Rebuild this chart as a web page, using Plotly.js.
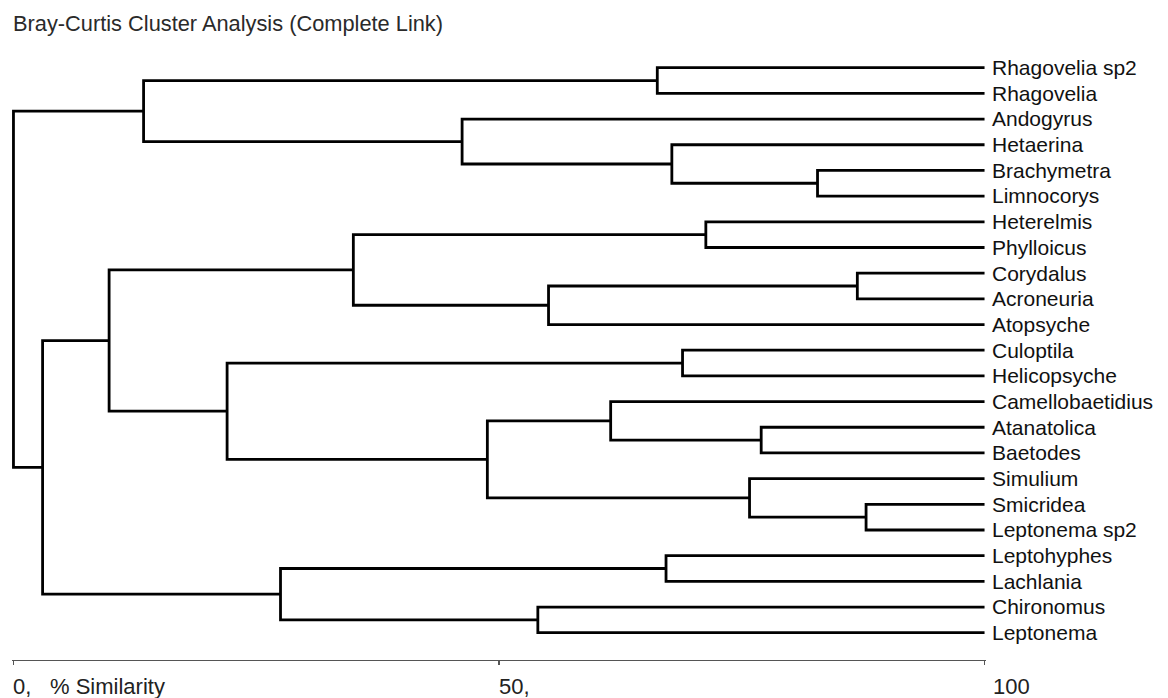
<!DOCTYPE html>
<html><head><meta charset="utf-8">
<script src="https://cdn.plot.ly/plotly-3.0.1.min.js"></script>
<style>html,body{margin:0;padding:0;background:#fff}#chart{width:1168px;height:698px}</style>
</head><body><div id="chart"></div>
<script>
// Leaves, top to bottom
const leaves = ['Rhagovelia sp2','Rhagovelia','Andogyrus','Hetaerina','Brachymetra','Limnocorys',
  'Heterelmis','Phylloicus','Corydalus','Acroneuria','Atopsyche','Culoptila','Helicopsyche',
  'Camellobaetidius','Atanatolica','Baetodes','Simulium','Smicridea','Leptonema sp2',
  'Leptohyphes','Lachlania','Chironomus','Leptonema'];
// Merge steps: ids 0..22 are leaves, merge k creates cluster id 23+k
const mergeA = [0,4,3,2,23,6,8,29,28,11,14,13,17,16,34,32,31,19,21,40,39,27];
const mergeB = [1,5,24,25,26,7,9,10,30,12,15,33,18,35,36,37,38,20,22,41,42,43];
const mergeSimilarity = [66.3,82.8,67.8,46.2,13.4,71.3,86.9,55.1,35.0,68.9,77.0,61.5,87.8,75.8,48.8,22.0,9.85,67.2,54.0,27.5,3.0,0.0];
const leafSimilarity = 100;
const xTickVals = [0,50,100];
const xTickLabels = ['0,','50,','100'];
const axisTitle = '% Similarity';
const chartTitle = 'Bray-Curtis Cluster Analysis (Complete Link)';

const pos = leaves.map((_, i) => i);
const hgt = leaves.map(() => leafSimilarity);
const xs = [], ys = [];
for (let k = 0; k < mergeA.length; k++) {
  const a = mergeA[k], b = mergeB[k], h = mergeSimilarity[k];
  xs.push(hgt[a], h, h, hgt[b], null);
  ys.push(pos[a], pos[a], pos[b], pos[b], null);
  pos.push((pos[a] + pos[b]) / 2);
  hgt.push(h);
}

const trace = {
  type: 'scatter', mode: 'lines', x: xs, y: ys,
  line: {color: '#000', width: 2.8}, hoverinfo: 'skip', showlegend: false
};

const font = 'Liberation Sans, Arial, sans-serif';
const layout = {
  width: 1168, height: 698,
  margin: {l: 11.85, r: 181.5, t: 50, b: 38, pad: 0},
  paper_bgcolor: '#fff', plot_bgcolor: '#fff',
  font: {family: font, color: '#111'},
  title: {text: chartTitle, x: 13/1168, xref: 'container', xanchor: 'left',
          y: 1 - 23/698, yref: 'container', yanchor: 'middle',
          font: {family: font, size: 21.8, color: '#2a2a2a'}},
  xaxis: {range: [-0.15, 100.15], showline: true, linecolor: '#555', linewidth: 1.2,
          ticks: 'outside', tickvals: xTickVals, ticklen: 4, tickwidth: 1.2, tickcolor: '#555',
          showticklabels: false, showgrid: false, zeroline: false, fixedrange: true},
  yaxis: {range: [23.062, -0.689], side: 'right', tickmode: 'array',
          tickvals: leaves.map((_, i) => i), ticktext: leaves, ticks: '',
          ticklabelstandoff: 5,
          tickfont: {family: font, size: 21, color: '#111'},
          showgrid: false, zeroline: false, showline: false, fixedrange: true},
  annotations: [
    ...xTickVals.map((v, i) => ({x: v, xref: 'x', y: 0, yref: 'paper', yshift: -26,
      text: xTickLabels[i], showarrow: false, xanchor: 'left', yanchor: 'middle',
      xshift: (v === 100 ? 6 : -2), font: {family: font, size: 22, color: '#222'}})),
    {x: 3.78, xref: 'x', y: 0, yref: 'paper', yshift: -26, text: axisTitle, showarrow: false,
      xanchor: 'left', yanchor: 'middle', xshift: -2, font: {family: font, size: 22, color: '#222'}}
  ]
};

Plotly.newPlot('chart', [trace], layout, {displayModeBar: false, staticPlot: true});
</script>
</body></html>
